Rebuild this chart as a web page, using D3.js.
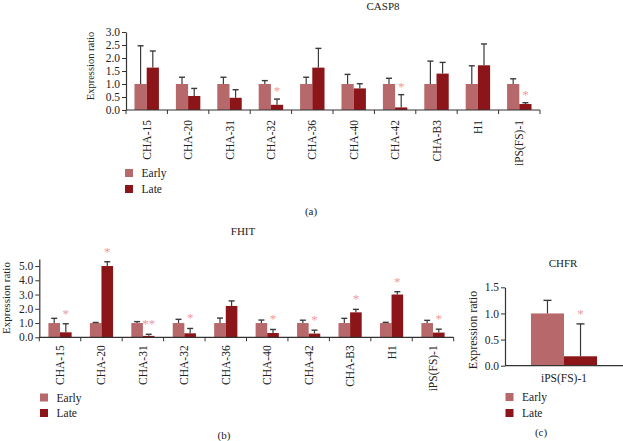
<!DOCTYPE html>
<html><head><meta charset="utf-8">
<script src="https://cdn.jsdelivr.net/npm/d3@7"></script>
<style>body{margin:0;background:#fff}svg{display:block}svg text{font-family:"Liberation Serif","DejaVu Serif",serif !important;fill:#222}</style>
</head><body>
<svg id="c" width="623" height="441" style="font-family:'Liberation Serif',serif"></svg>
<script>
const categories = ['CHA-15','CHA-20','CHA-31','CHA-32','CHA-36','CHA-40','CHA-42','CHA-B3','H1','iPS(FS)-1'];
const series = ['Early','Late'];

const casp8Early    = [1,1,1,1,1,1,1,1,1,1];
const casp8EarlyErr = [1.47,0.26,0.26,0.13,0.26,0.37,0.22,0.88,0.70,0.20];
const casp8Late     = [1.63,0.54,0.47,0.20,1.63,0.83,0.10,1.40,1.72,0.23];
const casp8LateErr  = [0.64,0.29,0.31,0.22,0.74,0.18,0.49,0.43,0.82,0.05];
const casp8Sig      = ['','','','*','','','*','','','*'];
const casp8Ticks    = [0,0.5,1.0,1.5,2.0,2.5,3.0];

const fhitEarly    = [1,1,1,1,1,1,1,1,1,1];
const fhitEarlyErr = [0.33,0.04,0.10,0.26,0.35,0.21,0.20,0.33,0.05,0.19];
const fhitLate     = [0.35,5.0,0.10,0.28,2.2,0.30,0.26,1.75,3.0,0.33];
const fhitLateErr  = [0.60,0.30,0.11,0.34,0.35,0.25,0.24,0.21,0.20,0.24];
const fhitSig      = ['*','*','**','*','','*','*','*','*','*'];
const fhitTicks    = [0,1,2,3,4,5];

const chfrCategories = ['iPS(FS)-1'];
const chfrEarly    = [1.0];
const chfrEarlyErr = [0.25];
const chfrLate     = [0.18];
const chfrLateErr  = [0.62];
const chfrSig      = ['*'];
const chfrTicks    = [0,0.5,1.0,1.5];

const colors = {Early:'#b7686b', Late:'#8b1518'};
const starColor = '#f2999a';
const FONT = "'Liberation Serif','DejaVu Serif',serif";
const svg = d3.select('#c');

function txt(sel){ return sel.style('font-family',FONT); }

function panel(o){
  const g = svg.append('g');
  const x = d3.scaleBand().domain(o.cats).range([o.x0,o.x1]).padding(0);
  const y = d3.scaleLinear().domain([0,o.ymax]).range([o.y0,o.y1]);
  const xs = d3.scaleBand().domain(series).range([x.bandwidth()*o.pad, x.bandwidth()*(1-o.pad)]).padding(0);
  const rows = o.cats.map((c,i)=>({c, i, vals:[
    {s:'Early', v:o.early[i], e:o.earlyErr[i]},
    {s:'Late', v:o.late[i], e:o.lateErr[i]}], sig:o.sig[i]}));
  const grp = g.selectAll('g.cat').data(rows).join('g').attr('transform',d=>`translate(${x(d.c)},0)`);
  grp.selectAll('rect').data(d=>d.vals).join('rect')
    .attr('x',d=>xs(d.s)).attr('width',xs.bandwidth())
    .attr('y',d=>y(d.v)).attr('height',d=>y(0)-y(d.v))
    .attr('fill',d=>colors[d.s]);
  const cap = o.cap;
  grp.selectAll('g.err').data(d=>d.vals).join('g').each(function(d){
    const cx = xs(d.s)+xs.bandwidth()/2;
    const s = d3.select(this);
    s.append('line').attr('x1',cx).attr('x2',cx).attr('y1',y(d.v)).attr('y2',y(d.v+d.e)).attr('stroke','#3a3a3a').attr('stroke-width',1.2);
    s.append('line').attr('x1',cx-cap).attr('x2',cx+cap).attr('y1',y(d.v+d.e)).attr('y2',y(d.v+d.e)).attr('stroke','#3a3a3a').attr('stroke-width',1.4);
  });
  txt(grp.append('text').text(d=>d.sig)
    .attr('x',d=>xs('Late')+xs.bandwidth()/2)
    .attr('y',d=>y(d.vals[1].v+d.vals[1].e)-o.starOff+5)
    .attr('text-anchor','middle').attr('font-size',13)).style('fill',starColor);
  // y axis
  const ya = d3.axisLeft(y).tickValues(o.ticks).tickFormat(d3.format('.1f')).tickSize(4).tickSizeOuter(0);
  const yg = g.append('g').attr('transform',`translate(${o.x0},0)`).call(ya).attr('font-family',null).attr('font-size',null);
  yg.select('.domain').attr('stroke','#333').attr('stroke-width',1.2);
  yg.selectAll('.tick line').attr('stroke','#333');
  txt(yg.selectAll('.tick text').attr('font-size',o.tickFs).attr('fill','#222').attr('x',-6));
  // x axis line
  g.append('line').attr('x1',o.x0).attr('x2',o.x1).attr('y1',o.y0).attr('y2',o.y0).attr('stroke','#333').attr('stroke-width',1.2);
  if(o.edgeTicks){
    const edges = o.cats.map(c=>x(c)).concat([o.x1]);
    g.selectAll('line.et').data(edges).join('line').attr('class','et')
      .attr('x1',d=>d).attr('x2',d=>d).attr('y1',o.y0).attr('y2',o.y0+4).attr('stroke','#333').attr('stroke-width',1);
  }
  // x labels
  if(o.rotate){
    txt(g.selectAll('text.xl').data(o.cats).join('text').attr('class','xl')
      .attr('transform',d=>`translate(${x(d)+x.bandwidth()/2},${o.y0+o.labOff}) rotate(-90)`)
      .attr('text-anchor','end').attr('dy','0.35em').attr('font-size',11.5).text(d=>d));
  } else {
    txt(g.selectAll('text.xl').data(o.cats).join('text').attr('class','xl')
      .attr('x',d=>x(d)+x.bandwidth()/2).attr('y',o.y0+16)
      .attr('text-anchor','middle').attr('font-size',11.5).text(d=>d));
  }
  // y label
  txt(g.append('text').attr('transform',`translate(${o.ylx},${o.yly}) rotate(-90)`)
    .attr('text-anchor','middle').attr('font-size',o.ylFs).text('Expression ratio'));
  // title
  txt(g.append('text').attr('x',o.tx).attr('y',o.ty).attr('text-anchor','middle').attr('font-size',11).text(o.title));
  // legend
  series.forEach((s,i)=>{
    g.append('rect').attr('x',o.lx).attr('y',o.ly+i*o.lgap-4).attr('width',8).attr('height',8).attr('fill',colors[s]);
    txt(g.append('text').attr('x',o.lx+16.5).attr('y',o.ly+i*o.lgap+4).attr('font-size',11.5).text(s));
  });
  txt(g.append('text').attr('x',o.px).attr('y',o.py).attr('text-anchor','middle').attr('font-size',11).text(o.plabel));
}

panel({cats:categories, early:casp8Early, earlyErr:casp8EarlyErr, late:casp8Late, lateErr:casp8LateErr, sig:casp8Sig, ticks:casp8Ticks,
  x0:126, x1:540, y0:110, y1:32, ymax:3.0, pad:0.205, cap:3, starOff:9, tickFs:11.5, edgeTicks:true, rotate:true, labOff:10,
  ylx:94, yly:66, ylFs:10.5, title:'CASP8', tx:383, ty:10, lx:125, ly:173, lgap:16, plabel:'(a)', px:311, py:215});

panel({cats:categories, early:fhitEarly, earlyErr:fhitEarlyErr, late:fhitLate, lateErr:fhitLateErr, sig:fhitSig, ticks:fhitTicks,
  x0:39.3, x1:453.7, y0:337.3, y1:258.9, ymax:5.5, pad:0.22, cap:3, starOff:11, tickFs:11.5, edgeTicks:true, rotate:true, labOff:8,
  ylx:10, yly:298, ylFs:11, title:'FHIT', tx:243, ty:235, lx:40, ly:397.5, lgap:15.5, plabel:'(b)', px:224, py:439});

panel({cats:chfrCategories, early:chfrEarly, earlyErr:chfrEarlyErr, late:chfrLate, lateErr:chfrLateErr, sig:chfrSig, ticks:chfrTicks,
  x0:505, x1:623, y0:365.7, y1:287.3, ymax:1.5, pad:0.22, cap:4, starOff:11, tickFs:11.5, edgeTicks:false, rotate:false, labOff:0,
  ylx:477, yly:330, ylFs:12, title:'CHFR', tx:563, ty:267, lx:505.5, ly:397, lgap:16, plabel:'(c)', px:541, py:436});
</script>
</body></html>
